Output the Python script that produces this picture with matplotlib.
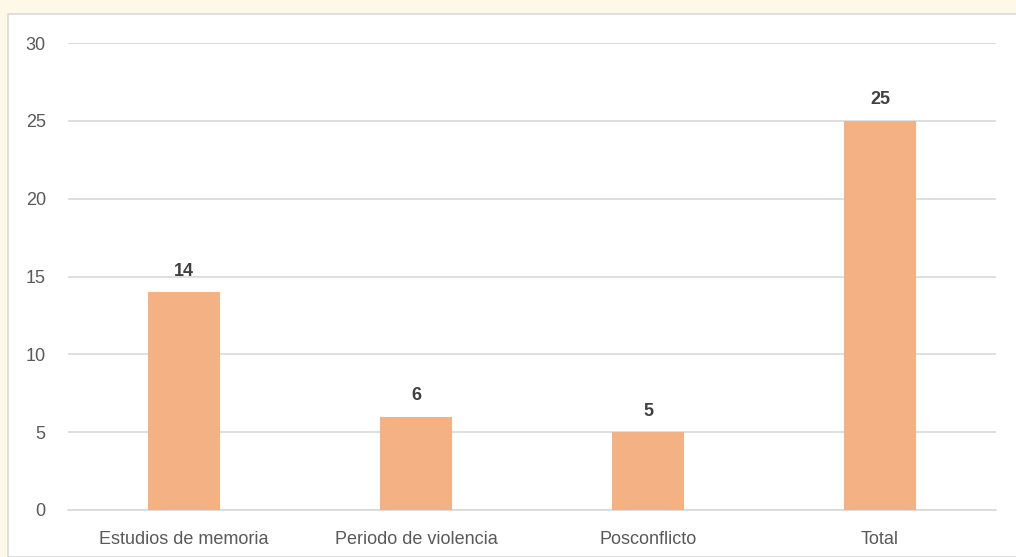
import matplotlib

matplotlib.use("Agg")
import matplotlib.pyplot as plt
from matplotlib.patches import Rectangle

categories = ["Estudios de memoria", "Periodo de violencia", "Posconflicto", "Total"]
values = [14, 6, 5, 25]
yticks = [0, 5, 10, 15, 20, 25, 30]

plt.rcParams["font.family"] = ["Liberation Sans", "DejaVu Sans"]

fig = plt.figure(figsize=(10.16, 5.57), dpi=100)
fig.patch.set_facecolor("#FDF8E8")

# white chart panel, like the pasted spreadsheet chart
panel = Rectangle((8 / 1016, 0), 1.0, 1 - 14 / 557, transform=fig.transFigure,
                  facecolor="white", edgecolor="#D9D9D9", linewidth=1.2, zorder=-10)
fig.patches.append(panel)

ax = fig.add_axes([68 / 1016, 47 / 557, 928 / 1016, 467 / 557])
ax.set_facecolor("none")

x = range(len(categories))
bars = ax.bar(x, values, width=0.31, color="#F4B183", zorder=3)

for xi, v in zip(x, values):
    ax.annotate(str(v), (xi, v), xytext=(0, 9), textcoords="offset points",
                ha="center", va="bottom", fontsize=13, fontweight="bold", color="#404040")

ax.set_xlim(-0.5, len(categories) - 0.5)
ax.set_ylim(0, 30)
ax.set_yticks(yticks)
ax.set_xticks(list(x))
ax.set_xticklabels(categories)
ax.yaxis.grid(True, color="#D9D9D9", linewidth=1.2, zorder=0)
ax.set_axisbelow(True)
for s in ["top", "right", "left"]:
    ax.spines[s].set_visible(False)
ax.spines["bottom"].set_color("#D9D9D9")
ax.spines["bottom"].set_linewidth(1.2)
ax.tick_params(axis="both", length=0, labelsize=13, labelcolor="#595959")
ax.tick_params(axis="y", pad=16)
ax.tick_params(axis="x", pad=15)

fig.savefig("out.png", dpi=100, facecolor=fig.get_facecolor())
